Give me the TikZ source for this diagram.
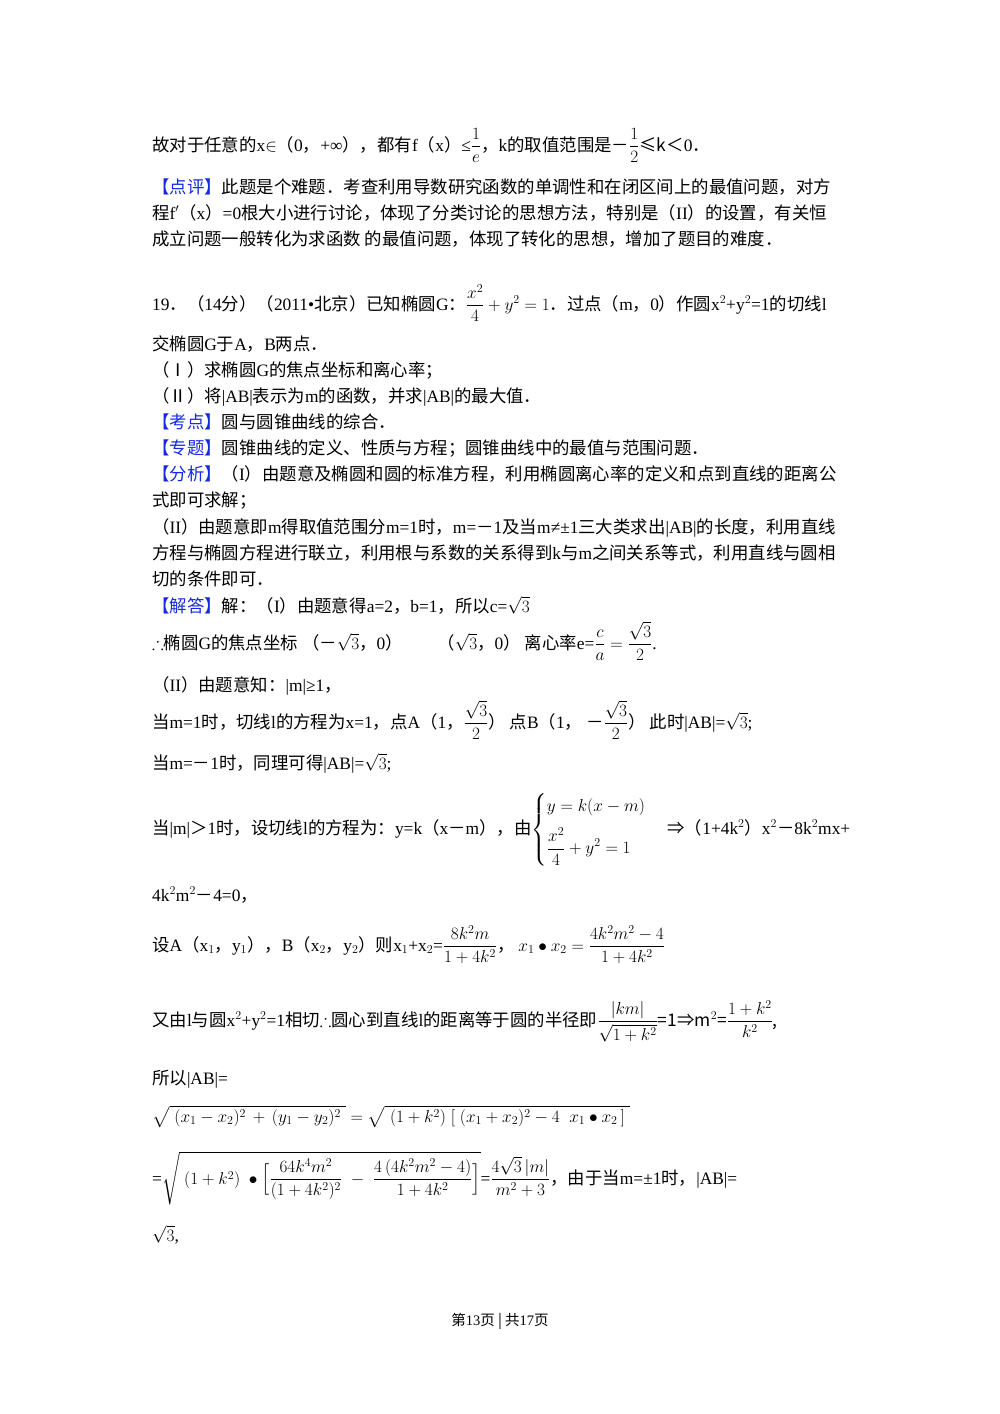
\documentclass[tikz,border=0pt]{standalone}
\usepackage{amsmath,amssymb}
\usepackage{fontspec}
\setmainfont{Liberation Serif}
\newfontfamily\cjk{Noto Sans CJK SC}
\XeTeXinterchartokenstate=1
\newXeTeXintercharclass\cjkclass
\count255="4E00
\loop\XeTeXcharclass\count255=\cjkclass\advance\count255 by 1 \ifnum\count255<"A000\repeat
\count255="3000
\loop\XeTeXcharclass\count255=\cjkclass\advance\count255 by 1 \ifnum\count255<"3040\repeat
\count255="FF00
\loop\XeTeXcharclass\count255=\cjkclass\advance\count255 by 1 \ifnum\count255<"FF60\repeat
\count255="2160
\loop\XeTeXcharclass\count255=\cjkclass\advance\count255 by 1 \ifnum\count255<"2170\repeat
\XeTeXinterchartoks 0 \cjkclass={\cjk}
\XeTeXinterchartoks 4095 \cjkclass={\cjk}
\XeTeXinterchartoks \cjkclass 0={\rmfamily}
\definecolor{lbl}{RGB}{20,40,230}
\newcommand{\lb}[1]{\textcolor{lbl}{#1}}
\begin{document}
\begin{tikzpicture}[x=1pt,y=-1pt,txt/.style={anchor=base west,inner sep=0pt,font=\fontsize{17.4}{21}\selectfont}]
\useasboundingbox[fill=white] (0,0) rectangle (1000,1414);
\node[txt] (l1) at (152,151) {故对于任意的x$\in$（0，+∞），都有f（x）≤$\dfrac{1}{e}$，k的取值范围是－$\dfrac{1}{2}$≤k＜0．};
\node[txt] (l2) at (152,193) {\lb{【点评】}此题是个难题．考查利用导数研究函数的单调性和在闭区间上的最值问题，对方};
\node[txt] (l3) at (152,219) {程f$'$（x）=0根大小进行讨论，体现了分类讨论的思想方法，特别是（II）的设置，有关恒};
\node[txt] (l4) at (152,245) {成立问题一般转化为求函数 的最值问题，体现了转化的思想，增加了题目的难度．};
\node[txt] (l5) at (152,310) {19．（14分）（2011•北京）已知椭圆G：$\dfrac{x^2}{4}+y^2=1$．过点（m，0）作圆x$^2$+y$^2$=1的切线l};
\node[txt] (l6) at (152,350) {交椭圆G于A，B两点．};
\node[txt] (l7) at (152,376) {（Ⅰ）求椭圆G的焦点坐标和离心率；};
\node[txt] (l8) at (152,402) {（Ⅱ）将|AB|表示为m的函数，并求|AB|的最大值．};
\node[txt] (l9) at (152,428) {\lb{【考点】}圆与圆锥曲线的综合．};
\node[txt] (l10) at (152,454) {\lb{【专题】}圆锥曲线的定义、性质与方程；圆锥曲线中的最值与范围问题．};
\node[txt] (l11) at (152,480) {\lb{【分析】}（I）由题意及椭圆和圆的标准方程，利用椭圆离心率的定义和点到直线的距离公};
\node[txt] (l12) at (152,506) {式即可求解；};
\node[txt] (l13) at (152,533) {（II）由题意即m得取值范围分m=1时，m=－1及当m≠±1三大类求出|AB|的长度，利用直线};
\node[txt] (l14) at (152,559) {方程与椭圆方程进行联立，利用根与系数的关系得到k与m之间关系等式，利用直线与圆相};
\node[txt] (l15) at (152,585) {切的条件即可．};
\node[txt] (l16) at (152,612) {\lb{【解答】}解：（I）由题意得a=2，b=1，所以c=$\sqrt{3}$};
\node[txt] (l17) at (152,649) {$\therefore$椭圆G的焦点坐标\ （－$\sqrt{3}$，0）\qquad （$\sqrt{3}$，0）\ 离心率e=$\dfrac{c}{a}=\dfrac{\sqrt{3}}{2}$.};
\node[txt] (l18) at (152,691) {（II）由题意知：|m|≥1，};
\node[txt] (l19) at (152,728) {当m=1时，切线l的方程为x=1，点A（1，$\dfrac{\sqrt{3}}{2}$）\ 点B（1，\ －$\dfrac{\sqrt{3}}{2}$）\ 此时|AB|=$\sqrt{3}$;};
\node[txt] (l20) at (152,769) {当m=－1时，同理可得|AB|=$\sqrt{3}$;};
\node[txt] (l21) at (152,834) {当|m|＞1时，设切线l的方程为：y=k（x－m），由$\begin{cases}y=k(x-m)\\[8pt] \dfrac{x^2}{4}+y^2=1\end{cases}$ ⇒（1+4k$^2$）x$^2$－8k$^2$mx+};
\node[txt] (l22) at (152,901) {4k$^2$m$^2$－4=0，};
\node[txt] (l23) at (152,951) {设A（x$_1$，y$_1$），B（x$_2$，y$_2$）则x$_1$+x$_2$=$\dfrac{8k^2m}{1+4k^2}$，\ $x_1\bullet x_2=\dfrac{4k^2m^2-4}{1+4k^2}$};
\node[txt] (l24) at (152,1026) {又由l与圆x$^2$+y$^2$=1相切$\therefore$圆心到直线l的距离等于圆的半径即$\dfrac{|km|}{\sqrt{1+k^2}}$=1⇒m$^2$=$\dfrac{1+k^2}{k^2}$,};
\node[txt] (l25) at (152,1084) {所以|AB|=};
\node[txt] (l26) at (152,1122) {$\sqrt{\;(x_1-x_2)^2\,+\,(y_1-y_2)^2\;}=\sqrt{\;(1+k^2)\;[\;(x_1+x_2)^2-4\;\;x_1\bullet x_2\,]\;}$};
\node[txt] (l27) at (152,1184) {=$\sqrt{\;(1+k^2)\;\bullet\Bigl[\dfrac{64k^4m^2}{(1+4k^2)^2}\;-\;\dfrac{4\,(4k^2m^2-4)}{1+4k^2}\Bigr]}$=$\dfrac{4\sqrt{3}\,|m|}{m^2+3}$，由于当m=±1时，|AB|=};
\node[txt] (l28) at (152,1241) {$\sqrt{3}$,};
\node[anchor=base,inner sep=0pt,font=\fontsize{14.5}{16}\selectfont] (ft) at (500,1325) {第13页 | 共17页};
\end{tikzpicture}
\end{document}
